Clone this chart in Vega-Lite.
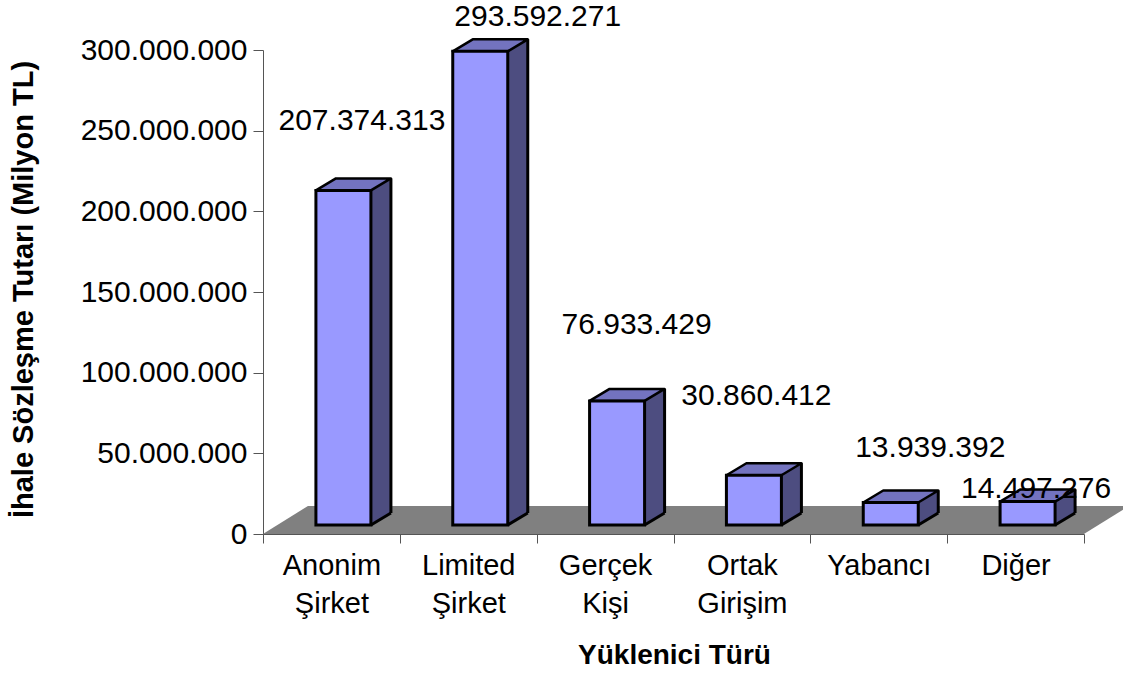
{
"$schema":"https://vega.github.io/schema/vega-lite/v6.json",
"width":821,"height":484,
"autosize":{"type":"none"},
"padding":{"left":263,"top":50,"right":39,"bottom":139},
"background":"white",
"config":{"view":{"stroke":null},"font":"Liberation Sans"},
"data":{"values":[
{"tur":"Anonim Şirket","tutar":207374313,"etiket":"207.374.313"},
{"tur":"Limited Şirket","tutar":293592271,"etiket":"293.592.271"},
{"tur":"Gerçek Kişi","tutar":76933429,"etiket":"76.933.429"},
{"tur":"Ortak Girişim","tutar":30860412,"etiket":"30.860.412"},
{"tur":"Yabancı","tutar":13939392,"etiket":"13.939.392"},
{"tur":"Diğer","tutar":14497276,"etiket":"14.497.276"}
]},
"encoding":{
"x":{"field":"tur","type":"nominal","sort":null,"scale":{"paddingInner":0,"paddingOuter":0},
"axis":{"title":"Yüklenici Türü","titleFontSize":28,"titleFontWeight":"bold","titleColor":"#000","titleX":411,"titleY":121,"titleBaseline":"middle","titleAlign":"center","labelAngle":0,"labelFontSize":29,"labelColor":"#000","labelExpr":"split(datum.label,' ')","labelLineHeight":38,"labelPadding":8,"tickSize":9,"tickColor":"#555","domainColor":"#555","bandPosition":0,"tickBand":"extent","labelBaseline":"top","labelAlign":"center"}},
"y":{"field":"tutar","type":"quantitative","stack":null,"scale":{"domain":[0,300000000],"nice":false},
"axis":{"title":"İhale Sözleşme Tutarı (Milyon TL)","titleFontSize":29,"titleFontWeight":"bold","titleColor":"#000","titleX":-240,"titleY":239,"titleAngle":270,"titleBaseline":"middle","titleAlign":"center","grid":false,"values":[0,50000000,100000000,150000000,200000000,250000000,300000000],"labelExpr":"replace(format(datum.value,','),/,/g,'.')","labelFontSize":30,"labelColor":"#000","labelPadding":6,"tickSize":10,"tickColor":"#555","domainColor":"#555"}}
},
"layer":[
{"transform":[{"filter":"datum.tur==='Anonim Şirket'"}],
"mark":{"type":"point","shape":"M-68.5,0 L752.5,0 L797.5,-28 L-23.5,-28 Z","size":4,"filled":true,"fill":"#808080","stroke":null,"opacity":1,"clip":false},
"encoding":{"y":{"datum":0}}},
{"mark":{"type":"rule","stroke":"#4D4D80","strokeWidth":20,"xOffset":49.5,"yOffset":-21,"y2Offset":-9},
"encoding":{"y2":{"datum":0}}},
{"mark":{"type":"rule","stroke":"#000","strokeWidth":3,"xOffset":59.5,"yOffset":-21,"y2Offset":-21},
"encoding":{"y2":{"datum":0}}},
{"mark":{"type":"point","shape":"M27.5,0 L47.5,-12 L49,-12 L49,1 L27.5,1 Z","size":4,"filled":true,"fill":"#808080","stroke":null,"opacity":1,"xOffset":12,"yOffset":-9},
"encoding":{"y":{"datum":0}}},
{"mark":{"type":"point","shape":"M27.5,0 L47.5,-12","size":4,"filled":false,"stroke":"#000","strokeWidth":3,"opacity":1,"xOffset":12,"yOffset":-9},
"encoding":{"y":{"datum":0}}},
{"mark":{"type":"point","shape":"M-27.5,0 L27.5,0 L47.5,-12 L-7.5,-12 Z","size":4,"filled":true,"fill":"#7373BF","stroke":"#000","strokeWidth":2.5,"strokeJoin":"round","opacity":1,"xOffset":12,"yOffset":-9}},
{"mark":{"type":"bar","width":55,"fill":"#9999FF","stroke":"#000","strokeWidth":3,"xOffset":12,"yOffset":-9,"y2Offset":-9},
"encoding":{"y2":{"datum":0}}},
{"transform":[{"filter":"datum.tur==='Anonim Şirket'"}],"mark":{"type":"text","fontSize":30,"color":"#000","xOffset":30.5,"yOffset":-78},"encoding":{"text":{"field":"etiket","type":"nominal"}}},
{"transform":[{"filter":"datum.tur==='Limited Şirket'"}],"mark":{"type":"text","fontSize":30,"color":"#000","xOffset":69.5,"yOffset":-43},"encoding":{"text":{"field":"etiket","type":"nominal"}}},
{"transform":[{"filter":"datum.tur==='Gerçek Kişi'"}],"mark":{"type":"text","fontSize":30,"color":"#000","xOffset":31.5,"yOffset":-85},"encoding":{"text":{"field":"etiket","type":"nominal"}}},
{"transform":[{"filter":"datum.tur==='Ortak Girişim'"}],"mark":{"type":"text","fontSize":30,"color":"#000","xOffset":14.5,"yOffset":-88},"encoding":{"text":{"field":"etiket","type":"nominal"}}},
{"transform":[{"filter":"datum.tur==='Yabancı'"}],"mark":{"type":"text","fontSize":30,"color":"#000","xOffset":51.5,"yOffset":-63.5},"encoding":{"text":{"field":"etiket","type":"nominal"}}},
{"transform":[{"filter":"datum.tur==='Diğer'"}],"mark":{"type":"text","fontSize":30,"color":"#000","xOffset":20.5,"yOffset":-22},"encoding":{"text":{"field":"etiket","type":"nominal"}}}
]
}
